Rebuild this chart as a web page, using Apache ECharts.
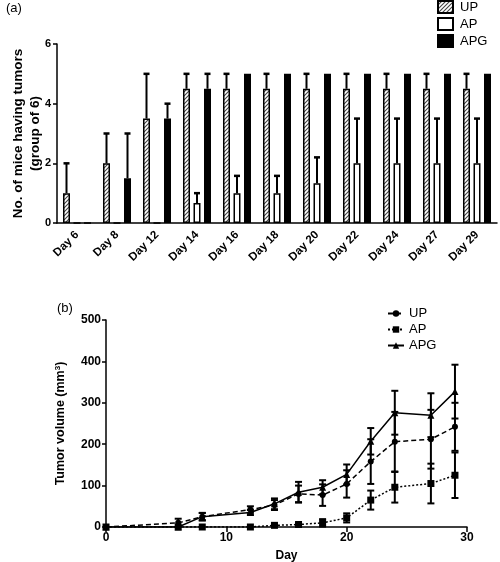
<!DOCTYPE html>
<html><head><meta charset="utf-8">
<script src="https://cdn.jsdelivr.net/npm/echarts@6/dist/echarts.min.js"></script>
<style>
html,body{margin:0;padding:0;background:#fff;}
#a{position:absolute;left:0;top:0;width:500px;height:280px;}
#b{position:absolute;left:0;top:280px;width:500px;height:282px;}
</style>
</head><body>
<div id="a"></div><div id="b"></div>
<script>
// ---------- (a) number of mice having tumors ----------
const categories = ['Day 6','Day 8','Day 12','Day 14','Day 16','Day 18','Day 20','Day 22','Day 24','Day 27','Day 29'];
const upMice   = [1, 2, 3.5, 4.5, 4.5, 4.5, 4.5, 4.5, 4.5, 4.5, 4.5];
const upMiceHi = [2, 3, 5, 5, 5, 5, 5, 5, 5, 5, 5];
const apMice   = [0, 0, 0, 0.67, 1, 1, 1.33, 2, 2, 2, 2];
const apMiceHi = [0, 0, 0, 1, 1.58, 1.58, 2.2, 3.5, 3.5, 3.5, 3.5];
const apgMice   = [0, 1.5, 3.5, 4.5, 5, 5, 5, 5, 5, 5, 5];
const apgMiceHi = [0, 3, 4, 5, 5, 5, 5, 5, 5, 5, 5];
const miceTicks = [0, 2, 4, 6];

// ---------- (b) tumor volume ----------
const days   = [0, 6, 8, 12, 14, 16, 18, 20, 22, 24, 27, 29];
const upVol  = [0, 10, 25, 42, 53, 80, 77, 104, 158, 206, 212, 242];
const upSem  = [0, 10, 9, 8, 12, 20, 26, 33, 54, 72, 71, 58];
const apVol  = [0, 0, 0, 0, 4, 6, 10, 22, 65, 96, 105, 125];
const apSem  = [0, 0, 0, 0, 2, 3, 9, 11, 23, 37, 48, 55];
const apgVol = [0, 0, 25, 35, 56, 84, 96, 127, 207, 276, 270, 327];
const apgSem = [0, 0, 9, 6, 13, 25, 17, 24, 32, 53, 53, 65];
const volTicks = [0, 100, 200, 300, 400, 500];
const dayTicks = [0, 10, 20, 30];

const FONT = '"Liberation Sans", Arial, sans-serif';

// hatch pattern for UP bars
const hatch = document.createElement('canvas');
hatch.width = 4; hatch.height = 4;
(function(){
  const c = hatch.getContext('2d');
  c.fillStyle = '#fff'; c.fillRect(0,0,4,4);
  c.strokeStyle = '#444'; c.lineWidth = 1.1;
  c.beginPath();
  c.moveTo(0,4); c.lineTo(4,0);
  c.moveTo(-1,1); c.lineTo(1,-1);
  c.moveTo(3,5); c.lineTo(5,3);
  c.stroke();
})();
const hatchFill = {image: hatch, repeat: 'repeat'};

function barErr(shift){
  return function(params, api){
    const v = api.value(1), h = api.value(2);
    if (!(h > v)) return;
    const p0 = api.coord([api.value(0), v]);
    const p1 = api.coord([api.value(0), h]);
    const x = p0[0] + shift, c = 3;
    return {type:'group', children:[
      {type:'line', shape:{x1:x, y1:p0[1], x2:x, y2:p1[1]}, style:{stroke:'#000', lineWidth:2}},
      {type:'line', shape:{x1:x-c, y1:p1[1], x2:x+c, y2:p1[1]}, style:{stroke:'#000', lineWidth:2.5}}
    ]};
  };
}
const BW = 7, SHIFT = 10.5;

const chartA = echarts.init(document.getElementById('a'), null, {renderer:'canvas'});
chartA.setOption({
  animation:false,
  textStyle:{fontFamily:FONT},
  title:{text:'(a)', left:6, top:2, padding:0, textStyle:{fontSize:13, fontWeight:'normal', color:'#000', fontFamily:FONT}},
  legend:{
    orient:'vertical', left:437, top:0, padding:0, itemWidth:15, itemHeight:12, itemGap:3, icon:'rect',
    data:['UP','AP','APG'],
    textStyle:{fontSize:13, color:'#000', fontFamily:FONT, padding:[0,0,0,2]}
  },
  grid:{left:57, top:44, width:440, height:179, outerBoundsMode:'none', containLabel:false},
  xAxis:{
    type:'category', data:categories, boundaryGap:true,
    axisLine:{lineStyle:{color:'#000', width:1.5}},
    axisTick:{alignWithLabel:true, length:5, lineStyle:{color:'#000', width:1.5}},
    axisLabel:{rotate:45, fontSize:11.5, fontWeight:'bold', color:'#000', margin:10, fontFamily:FONT, interval:0}
  },
  yAxis:{
    type:'value', min:miceTicks[0], max:miceTicks[miceTicks.length-1], interval:2,
    axisLine:{show:true, lineStyle:{color:'#000', width:1.5}},
    axisTick:{show:true, length:4, lineStyle:{color:'#000', width:1.5}},
    splitLine:{show:false},
    axisLabel:{fontSize:11, fontWeight:'bold', color:'#000', margin:6, fontFamily:FONT},
    name:'No. of mice having tumors\n(group of 6)', nameLocation:'middle', nameGap:13.5, nameMoveOverlap:false,
    nameTextStyle:{fontSize:13.5, fontWeight:'bold', color:'#000', lineHeight:17, fontFamily:FONT}
  },
  series:[
    {name:'UP', type:'bar', data:upMice, barWidth:BW, barGap:'50%',
     itemStyle:{color:hatchFill, borderColor:'#000', borderWidth:1.5}},
    {name:'AP', type:'bar', data:apMice, barWidth:BW, barGap:'50%',
     itemStyle:{color:'#fff', borderColor:'#000', borderWidth:1.5}},
    {name:'APG', type:'bar', data:apgMice, barWidth:BW, barGap:'50%',
     itemStyle:{color:'#000', borderColor:'#000', borderWidth:1.5}},
    {type:'custom', renderItem:barErr(-SHIFT), z:10,
     data:categories.map((c,i)=>[i, upMice[i], upMiceHi[i]]), encode:{x:0, y:[1,2]}},
    {type:'custom', renderItem:barErr(0), z:10,
     data:categories.map((c,i)=>[i, apMice[i], apMiceHi[i]]), encode:{x:0, y:[1,2]}},
    {type:'custom', renderItem:barErr(SHIFT), z:10,
     data:categories.map((c,i)=>[i, apgMice[i], apgMiceHi[i]]), encode:{x:0, y:[1,2]}}
  ]
});

function lineErr(params, api){
  const lo = api.value(1), hi = api.value(2);
  if (!(hi > lo)) return;
  const p0 = api.coord([api.value(0), lo]);
  const p1 = api.coord([api.value(0), hi]);
  const x = p0[0], c = 3.5;
  return {type:'group', children:[
    {type:'line', shape:{x1:x, y1:p0[1], x2:x, y2:p1[1]}, style:{stroke:'#000', lineWidth:2}},
    {type:'line', shape:{x1:x-c, y1:p0[1], x2:x+c, y2:p0[1]}, style:{stroke:'#000', lineWidth:2}},
    {type:'line', shape:{x1:x-c, y1:p1[1], x2:x+c, y2:p1[1]}, style:{stroke:'#000', lineWidth:2}}
  ]};
}
function errData(vals, sem){ return days.map((d,i)=>[d, vals[i]-sem[i], vals[i]+sem[i]]); }

const chartB = echarts.init(document.getElementById('b'), null, {renderer:'canvas'});
chartB.setOption({
  animation:false,
  textStyle:{fontFamily:FONT},
  title:{text:'(b)', left:57, top:22, padding:0, textStyle:{fontSize:13, fontWeight:'normal', color:'#000', fontFamily:FONT}},
  legend:{
    orient:'vertical', left:387, top:27, padding:0, itemWidth:16, itemHeight:8, itemGap:3,
    data:['UP','AP','APG'],
    textStyle:{fontSize:13, color:'#000', fontFamily:FONT}
  },
  grid:{left:106, top:40, width:361, height:207, outerBoundsMode:'none', containLabel:false},
  xAxis:{
    type:'value', min:dayTicks[0], max:dayTicks[dayTicks.length-1], interval:10,
    axisLine:{lineStyle:{color:'#000', width:1.5}},
    axisTick:{show:true, length:5, lineStyle:{color:'#000', width:1.5}},
    splitLine:{show:false},
    axisLabel:{fontSize:12, fontWeight:'bold', color:'#000', margin:5, fontFamily:FONT},
    name:'Day', nameLocation:'middle', nameGap:22.5,
    nameTextStyle:{fontSize:12, fontWeight:'bold', color:'#000', fontFamily:FONT}
  },
  yAxis:{
    type:'value', min:volTicks[0], max:volTicks[volTicks.length-1], interval:100,
    axisLine:{show:true, lineStyle:{color:'#000', width:1.5}},
    axisTick:{show:true, length:4, lineStyle:{color:'#000', width:1.5}},
    splitLine:{show:false},
    axisLabel:{fontSize:12, fontWeight:'bold', color:'#000', margin:5, fontFamily:FONT},
    name:'Tumor volume (mm{s|3})', nameLocation:'middle', nameGap:38,
    nameTextStyle:{fontSize:12.5, fontWeight:'bold', color:'#000', fontFamily:FONT,
      rich:{s:{fontSize:8, fontWeight:'bold', verticalAlign:'top', color:'#000', fontFamily:FONT, padding:[0,0,6,0]}}}
  },
  series:[
    {name:'UP', type:'line', data:days.map((d,i)=>[d, upVol[i]]), symbol:'circle', symbolSize:6,
     itemStyle:{color:'#000'}, lineStyle:{color:'#000', width:1.5, type:[5,3]}, z:5},
    {name:'AP', type:'line', data:days.map((d,i)=>[d, apVol[i]]), symbol:'rect', symbolSize:7,
     itemStyle:{color:'#000'}, lineStyle:{color:'#000', width:1.5, type:[2,2]}, z:5},
    {name:'APG', type:'line', data:days.map((d,i)=>[d, apgVol[i]]), symbol:'triangle', symbolSize:7,
     itemStyle:{color:'#000'}, lineStyle:{color:'#000', width:1.5, type:'solid'}, z:5},
    {type:'custom', renderItem:lineErr, data:errData(upVol, upSem), encode:{x:0, y:[1,2]}, z:4},
    {type:'custom', renderItem:lineErr, data:errData(apVol, apSem), encode:{x:0, y:[1,2]}, z:4},
    {type:'custom', renderItem:lineErr, data:errData(apgVol, apgSem), encode:{x:0, y:[1,2]}, z:4}
  ]
});
</script>
</body></html>
